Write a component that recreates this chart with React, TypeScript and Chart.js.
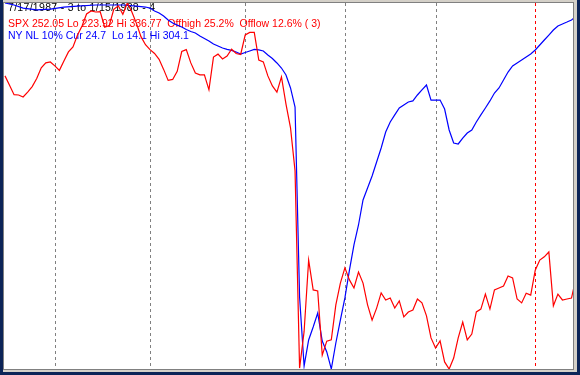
import React, { useEffect, useRef } from "react";
import { Chart, registerables } from "chart.js";

Chart.register(...registerables);

// Trading-day index (0 = 7/17/1987 ... 126 = 1/15/1988)
const spxDays = Array.from({ length: 127 }, (_, i) => i);
const spxClose = [
  314.3, 311.4, 308.5, 308.4, 307.8, 309.3, 311.0, 313.5, 316.8, 318.3,
  318.6, 317.4, 316.0, 318.9, 321.7, 323.2, 326.9, 329.7, 333.4, 334.3,
  334.0, 334.1, 329.3, 329.8, 334.8, 335.9, 333.3, 336.8, 334.0, 330.5,
  326.4, 323.9, 322.4, 321.2, 319.4, 316.3, 312.9, 313.2, 315.7, 321.8,
  322.4, 318.3, 315.2, 314.6, 314.6, 310.0, 320.1, 321.0, 319.5, 320.4,
  322.5, 321.2, 320.9, 326.9, 327.7, 327.7, 319.2, 318.6, 314.3, 311.2,
  309.3, 314.0, 305.6, 298.3, 285.0, 224.2, 235.5, 257.5, 248.3, 248.0,
  228.2, 232.5, 232.9, 243.7, 250.4, 255.1, 251.4, 248.9, 253.8, 250.4,
  243.7, 239.0, 242.7, 247.4, 245.2, 245.8, 242.7, 244.9, 240.0, 241.5,
  242.1, 245.5, 244.3, 240.3, 233.5, 230.4, 232.6, 226.1, 223.9, 227.3,
  233.5, 238.4, 232.9, 234.7, 241.5, 242.4, 247.0, 242.4, 248.3, 248.9,
  249.5, 252.6, 252.0, 245.5, 244.3, 247.3, 246.7, 254.4, 257.5, 258.5,
  260.0, 243.4, 247.0, 245.2, 245.5, 245.8, 252.05,
];

const nlDays = [
  0, 2, 4, 7, 10, 13, 16, 20, 26, 29, 31, 32, 33, 34, 35, 36, 37, 38, 39, 40,
  41, 42, 43, 44, 45, 46, 47, 48, 49, 50, 51, 52, 53, 54, 55, 56, 57, 58, 59, 60,
  61, 62, 63, 64, 65, 66, 67, 68, 69, 70, 71, 72, 73, 74, 75, 76, 77, 78, 79, 80,
  81, 82, 83, 84, 85, 86, 87, 88, 89, 90, 91, 92, 93, 94, 95, 96, 97, 98, 99, 100,
  101, 102, 103, 104, 105, 106, 107, 108, 109, 110, 111, 112, 113, 114, 115, 116, 117, 118, 119, 120,
  121, 122, 123, 124, 125, 126,
];
const nlValue = [
  14.1, 15.7, 18.1, 19.6, 18.9, 17.3, 16.5, 15.7, 15.7, 16.5, 17.3, 18.1, 20.4, 22.0, 24.4, 27.6, 30.0, 31.6, 33.1, 35.1,
  36.7, 37.9, 40.2, 42.2, 44.2, 46.6, 48.2, 49.8, 50.9, 51.7, 52.9, 54.5, 53.3, 52.1, 50.9, 51.3, 52.1, 55.3, 58.1, 61.6,
  65.6, 71.1, 81.4, 96.5, 247.1, 301.7, 281.1, 270.8, 259.7, 281.9, 290.6, 304.1, 283.5, 265.3, 247.8, 225.7, 205.8, 190.0, 170.2, 160.7,
  151.2, 140.1, 129.0, 116.3, 108.4, 102.8, 97.3, 94.9, 92.5, 91.7, 87.0, 83.0, 79.1, 91.0, 91.0, 91.0, 98.1, 114.7, 125.0, 125.8,
  121.1, 117.1, 114.7, 108.4, 102.8, 97.3, 91.7, 85.4, 81.4, 75.1, 68.8, 64.0, 61.6, 59.3, 56.9, 54.5, 51.3, 47.4, 43.4, 39.5,
  35.5, 32.3, 30.7, 29.2, 27.6, 24.7,
];

const monthStartDays = [11, 32, 53, 75, 95, 117];
const yearStartDay = 117;

const headerLine = "7/17/1987 - 3 to 1/15/1988 - 4";
const spxLine = "SPX 252.05 Lo 223.92 Hi 336.77  Offhigh 25.2%  Offlow 12.6% ( 3)";
const nlLine = "NY NL 10% Cur 24.7  Lo 14.1 Hi 304.1";

const spxLo = 223.92;
const spxHi = 336.77;
const nlLo = 14.1;
const nlHi = 304.1;

const overlayPlugin = {
  id: "overlay",
  beforeDatasetsDraw(chart: any) {
    const { ctx, chartArea, scales } = chart;
    const x = scales.x;
    ctx.save();
    ctx.lineWidth = 1;
    ctx.setLineDash([3, 3]);
    monthStartDays.forEach((d) => {
      const px = Math.round(x.getPixelForValue(d)) + 0.5;
      ctx.strokeStyle = d === yearStartDay ? "#ff0000" : "#808080";
      ctx.beginPath();
      ctx.moveTo(px, chartArea.top);
      ctx.lineTo(px, chartArea.bottom);
      ctx.stroke();
    });
    ctx.setLineDash([]);
    ctx.font = '10.5px "Liberation Sans", Arial, sans-serif';
    ctx.textBaseline = "alphabetic";
    ctx.fillStyle = "#000000";
    (ctx as any).letterSpacing = "0.3px";
    ctx.fillText(headerLine, 4, 8);
    (ctx as any).letterSpacing = "0px";
    ctx.fillStyle = "#ff0000";
    ctx.fillText(spxLine, 4, 23.5);
    ctx.fillStyle = "#0000ff";
    ctx.fillText(nlLine, 4, 36);
    ctx.restore();
  },
};

export default function App() {
  const canvasRef = useRef<HTMLCanvasElement | null>(null);

  useEffect(() => {
    const canvas = canvasRef.current;
    if (!canvas) return;
    const chart = new Chart(canvas, {
      type: "line",
      data: {
        datasets: [
          {
            label: "SPX",
            data: spxDays.map((d, i) => ({ x: d, y: spxClose[i] })),
            borderColor: "#ff0000",
            borderWidth: 1.2,
            pointRadius: 0,
            tension: 0,
            yAxisID: "y",
          },
          {
            label: "NY NL 10%",
            data: nlDays.map((d, i) => ({ x: d, y: nlValue[i] })),
            borderColor: "#0000ff",
            borderWidth: 1.2,
            pointRadius: 0,
            tension: 0,
            yAxisID: "y2",
          },
        ],
      },
      options: {
        responsive: false,
        animation: false,
        devicePixelRatio: 1,
        layout: { padding: 0 },
        plugins: {
          legend: { display: false },
          tooltip: { enabled: false },
        },
        scales: {
          x: { type: "linear", display: false, min: -0.22, max: 125.33 },
          y: { display: false, min: spxLo, max: spxHi },
          y2: { display: false, min: nlLo, max: nlHi, reverse: true },
        },
      },
      plugins: [overlayPlugin],
    });
    return () => chart.destroy();
  }, []);

  return (
    <div style={{ position: "absolute", left: 0, top: 0, width: 580, height: 375, background: "#0c2457", overflow: "hidden" }}>
      <div style={{ position: "absolute", left: 3, top: 0, width: 574, height: 372, background: "#d4d0c8" }} />
      <div style={{ position: "absolute", left: 3, top: 2, width: 571, height: 368, background: "#808080" }} />
      <div style={{ position: "absolute", left: 4, top: 3, width: 569, height: 366, background: "#ffffff" }}>
        <canvas ref={canvasRef} width={569} height={366} style={{ display: "block" }} />
      </div>
    </div>
  );
}
